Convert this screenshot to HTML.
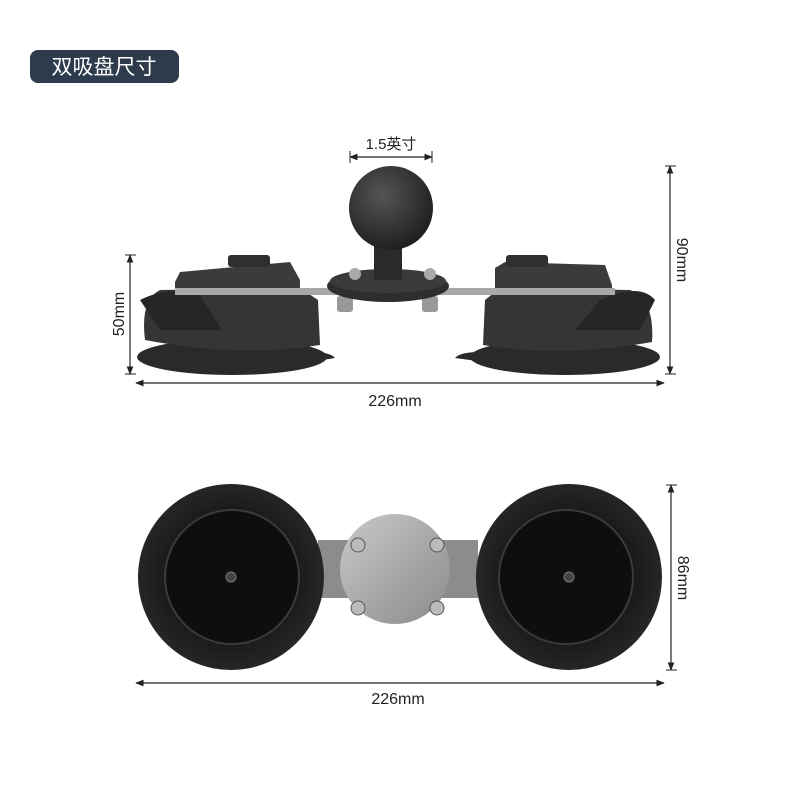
<!DOCTYPE html>
<html><head><meta charset="utf-8"><style>
body{margin:0;background:#fff;width:800px;height:800px;overflow:hidden;font-family:"Liberation Sans","Noto Sans CJK SC",sans-serif}
</style></head><body>
<svg width="800" height="800" viewBox="0 0 800 800" xmlns="http://www.w3.org/2000/svg" font-family="Liberation Sans, Noto Sans CJK SC, sans-serif">
<defs>
<radialGradient id="ball" cx="0.4" cy="0.35" r="0.7"><stop offset="0" stop-color="#555"/><stop offset="1" stop-color="#1c1c1c"/></radialGradient>
<linearGradient id="metal" x1="0" y1="0" x2="1" y2="1"><stop offset="0" stop-color="#c9c9c9"/><stop offset="1" stop-color="#8a8a8a"/></linearGradient>
<radialGradient id="disc" cx="0.5" cy="0.5" r="0.5"><stop offset="0.7" stop-color="#1a1a1a"/><stop offset="1" stop-color="#262626"/></radialGradient>
<marker id="a" viewBox="0 0 10 10" refX="9" refY="5" markerWidth="7" markerHeight="7" orient="auto-start-reverse"><path d="M0,1 L10,5 L0,9 z" fill="#222"/></marker>
</defs>
<rect x="30" y="50" width="149" height="33" rx="8" fill="#2e3b4d"/>
<text x="104" y="74" font-size="21" fill="#fff" text-anchor="middle">双吸盘尺寸</text>

<!-- top view -->
<g>
<!-- left cup -->
<ellipse cx="232" cy="357" rx="95" ry="18" fill="#2a2a2a"/>
<path d="M312,352 Q330,352 335,358 L310,362 z" fill="#2a2a2a"/>
<path d="M145,340 Q140,300 160,290 L300,288 L318,300 L320,345 Q240,358 145,340z" fill="#353535"/>
<path d="M140,300 Q170,285 200,295 L222,330 L160,330 z" fill="#262626"/>
<path d="M175,282 L180,272 L290,262 L300,280 L300,292 L175,292z" fill="#3b3b3b"/>
<rect x="228" y="255" width="42" height="12" rx="3" fill="#2f2f2f"/>
<!-- right cup -->
<ellipse cx="565" cy="357" rx="95" ry="18" fill="#2a2a2a"/>
<path d="M480,352 Q460,352 455,358 L485,362 z" fill="#2a2a2a"/>
<path d="M485,300 L500,288 L630,290 Q655,300 652,342 Q560,358 483,345z" fill="#353535"/>
<path d="M600,300 Q640,282 655,300 L640,330 L575,330z" fill="#262626"/>
<path d="M495,292 L495,268 L505,262 L605,265 L612,285 L612,292z" fill="#3b3b3b"/>
<rect x="506" y="255" width="42" height="12" rx="3" fill="#2f2f2f"/>
<!-- strip -->
<rect x="175" y="288" width="440" height="7" fill="#a8a8a8"/>
<!-- bolts under -->
<rect x="337" y="296" width="16" height="16" rx="3" fill="#999"/>
<rect x="422" y="296" width="16" height="16" rx="3" fill="#999"/>
<!-- base -->
<ellipse cx="388" cy="286" rx="61" ry="16" fill="#2e2e2e"/>
<ellipse cx="388" cy="281" rx="58" ry="12" fill="#3a3a3a"/>
<circle cx="355" cy="274" r="6" fill="#aaa"/><circle cx="430" cy="274" r="6" fill="#aaa"/>
<rect x="374" y="238" width="28" height="42" fill="#2a2a2a"/>
<circle cx="391" cy="208" r="42" fill="url(#ball)"/>
</g>
<!-- top dims -->
<line x1="350" y1="157" x2="432" y2="157" stroke="#222" stroke-width="1.2" marker-start="url(#a)" marker-end="url(#a)"/>
<line x1="350" y1="151" x2="350" y2="163" stroke="#222"/><line x1="432" y1="151" x2="432" y2="163" stroke="#222"/>
<text x="391" y="149" font-size="15" fill="#222" text-anchor="middle">1.5英寸</text>
<line x1="136" y1="383" x2="664" y2="383" stroke="#222" stroke-width="1.2" marker-start="url(#a)" marker-end="url(#a)"/>
<text x="395" y="406" font-size="16" fill="#222" text-anchor="middle">226mm</text>
<line x1="130" y1="255" x2="130" y2="374" stroke="#222" stroke-width="1.2" marker-start="url(#a)" marker-end="url(#a)"/>
<line x1="125" y1="255" x2="136" y2="255" stroke="#222"/><line x1="125" y1="374" x2="136" y2="374" stroke="#222"/>
<text transform="translate(124,314) rotate(-90)" font-size="16" fill="#222" text-anchor="middle">50mm</text>
<line x1="670" y1="166" x2="670" y2="374" stroke="#222" stroke-width="1.2" marker-start="url(#a)" marker-end="url(#a)"/>
<line x1="665" y1="166" x2="676" y2="166" stroke="#222"/><line x1="665" y1="374" x2="676" y2="374" stroke="#222"/>
<text transform="translate(677,260) rotate(90)" font-size="16" fill="#222" text-anchor="middle">90mm</text>

<!-- bottom view -->
<rect x="318" y="540" width="160" height="58" fill="#8c8c8c"/>
<circle cx="395" cy="569" r="55" fill="url(#metal)"/>
<g fill="#bbb" stroke="#555"><circle cx="358" cy="545" r="7"/><circle cx="437" cy="545" r="7"/><circle cx="358" cy="608" r="7"/><circle cx="437" cy="608" r="7"/></g>
<circle cx="231" cy="577" r="93" fill="url(#disc)"/>
<circle cx="232" cy="577" r="67" fill="#0e0e0e" stroke="#3a3a3a" stroke-width="2"/>
<circle cx="231" cy="577" r="5" fill="#444" stroke="#777"/>
<circle cx="569" cy="577" r="93" fill="url(#disc)"/>
<circle cx="566" cy="577" r="67" fill="#0e0e0e" stroke="#3a3a3a" stroke-width="2"/>
<circle cx="569" cy="577" r="5" fill="#444" stroke="#777"/>
<line x1="136" y1="683" x2="664" y2="683" stroke="#222" stroke-width="1.2" marker-start="url(#a)" marker-end="url(#a)"/>
<text x="398" y="704" font-size="16" fill="#222" text-anchor="middle">226mm</text>
<line x1="671" y1="485" x2="671" y2="670" stroke="#222" stroke-width="1.2" marker-start="url(#a)" marker-end="url(#a)"/>
<line x1="666" y1="485" x2="677" y2="485" stroke="#222"/><line x1="666" y1="670" x2="677" y2="670" stroke="#222"/>
<text transform="translate(678,578) rotate(90)" font-size="16" fill="#222" text-anchor="middle">86mm</text>
</svg>
</body></html>
